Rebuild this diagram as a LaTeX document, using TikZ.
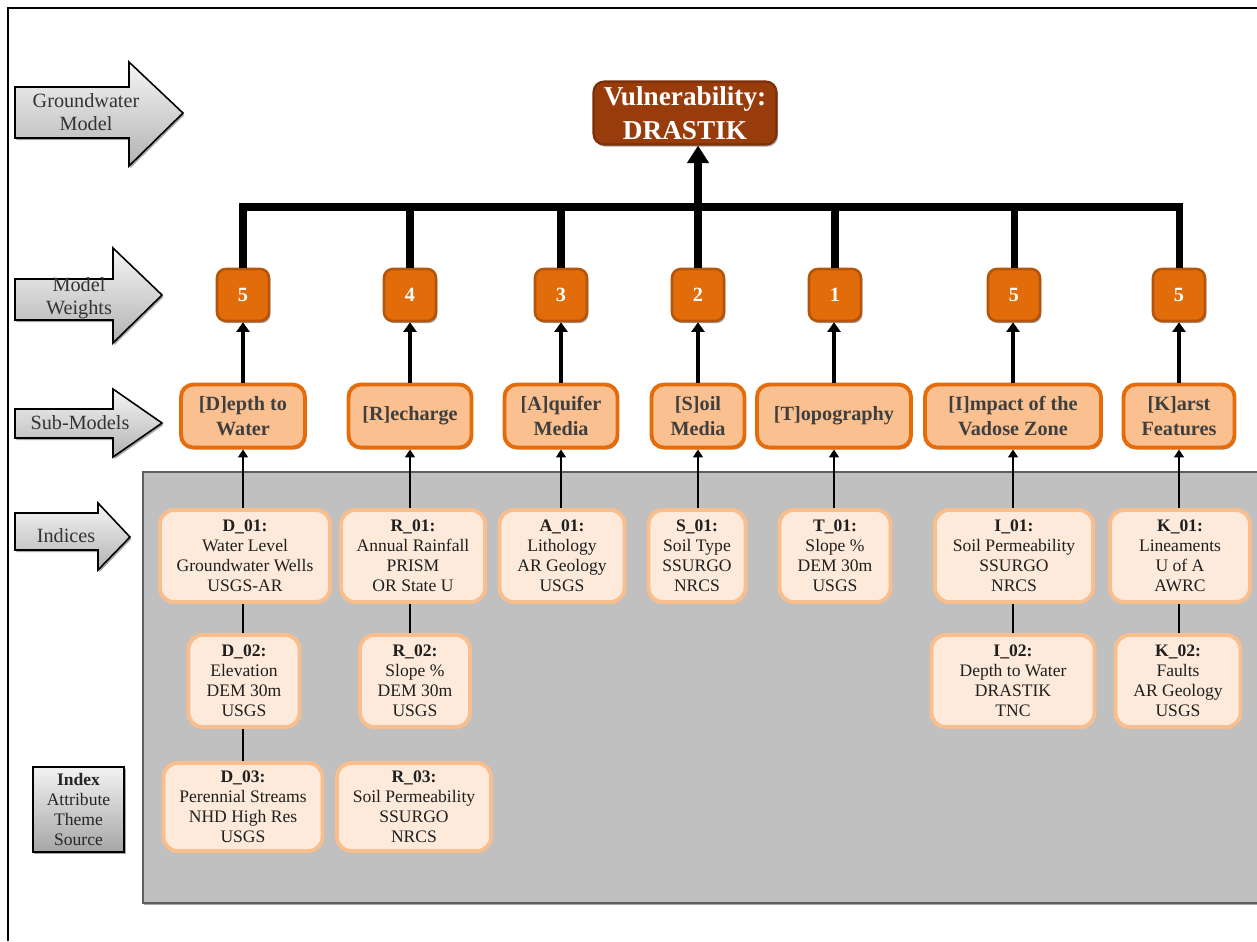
\documentclass[tikz,border=0pt]{standalone}
\usepackage{fontspec}
\setmainfont{Liberation Serif}
\usetikzlibrary{arrows.meta,shadows,calc}
\definecolor{topfill}{HTML}{983C0C}
\definecolor{topdraw}{HTML}{7A2F08}
\definecolor{wfill}{HTML}{E26B0A}
\definecolor{wdraw}{HTML}{B4550C}
\definecolor{subfill}{HTML}{FAC090}
\definecolor{subdraw}{HTML}{E46C0A}
\definecolor{idxfill}{HTML}{FDEADA}
\definecolor{idxdraw}{HTML}{F9BE8E}
\definecolor{panel}{HTML}{C0C0C0}
\definecolor{paneldraw}{HTML}{5F5F5F}
\definecolor{subtxt}{HTML}{3F3F3F}
\definecolor{idxtxt}{HTML}{1F1F1F}
\tikzset{
  softshadow/.style={drop shadow={shadow xshift=0.8pt,shadow yshift=-1.2pt,opacity=0.35,fill=black}},
  topbox/.style={draw=topdraw, fill=topfill, line width=1.2pt, rounded corners=6pt, text=white,
    font=\fontsize{15.5}{19}\selectfont\bfseries, align=center, minimum width=3.66cm, minimum height=1.26cm,
    inner sep=0pt, softshadow},
  wbox/.style={draw=wdraw, fill=wfill, line width=1.5pt, rounded corners=5pt, text=white,
    font=\fontsize{11.5}{13}\selectfont\bfseries, minimum width=1.04cm, minimum height=1.04cm, inner sep=0pt, softshadow},
  subbox/.style={draw=subdraw, fill=subfill, line width=2.2pt, rounded corners=7pt, text=subtxt,
    font=\fontsize{11.5}{14}\selectfont\bfseries, align=center, minimum height=1.26cm, inner sep=0pt, softshadow},
  idxbox/.style={draw=idxdraw, fill=idxfill, line width=2.2pt, rounded corners=8pt, text=idxtxt,
    font=\fontsize{10}{11.3}\selectfont, align=center, inner sep=0pt},
  leftarrow/.style={draw=black, line width=0.9pt, top color=black!4, bottom color=black!30, line join=miter, softshadow},
  arrowtext/.style={font=\fontsize{11.5}{13}\selectfont, text=black!80, align=center, inner sep=0pt},
  legendbox/.style={draw=black, line width=1pt, top color=black!5, bottom color=black!35, text=black!85,
    font=\fontsize{10}{11.3}\selectfont, align=center, minimum width=1.83cm, minimum height=1.71cm, inner sep=0pt, softshadow},
  bus/.style={line width=4pt, black, line join=miter},
  subarrow/.style={line width=2.3pt, black, -{Triangle[width=7.5pt,length=5.5pt]}},
  idxarrow/.style={line width=1.5pt, black, -{Triangle[width=5.5pt,length=4.5pt]}},
  idxline/.style={line width=1.3pt, black},
}
\begin{document}
\begin{tikzpicture}[x=0.02cm,y=-0.02cm]
\useasboundingbox (0,0) rectangle (1257,941);
% frame
\draw[line width=1.3pt] (8,941) -- (8,8) -- (1257,8);
% grey panel
\path[draw=paneldraw, fill=panel, line width=1pt, softshadow] (143,472) rectangle (1262,903);
% left block arrows
\path[leftarrow] (15,87) -- (129,87) -- (129,62) -- (183,113) -- (129,166) -- (129,138) -- (15,138) -- cycle;
\node[arrowtext] (lblGW) at (86,112) {Groundwater\\Model};
\path[leftarrow] (15,279) -- (113,279) -- (113,248) -- (162,295) -- (113,343) -- (113,320) -- (15,320) -- cycle;
\node[arrowtext] (lblMW) at (79,298) {Model\\Weights};
\path[leftarrow] (15,409) -- (113,409) -- (113,389) -- (162,423) -- (113,457) -- (113,438) -- (15,438) -- cycle;
\node[arrowtext] (lblSM) at (80,423) {Sub-Models};
\path[leftarrow] (15,513) -- (98,513) -- (98,503) -- (130,537) -- (98,570) -- (98,550) -- (15,550) -- cycle;
\node[arrowtext] (lblIX) at (66,536) {Indices};
% legend
\node[legendbox] (legend) at (78.5,809.5) {\textbf{Index}\\Attribute\\Theme\\Source};
% top
\node[topbox] (top) at (685,113) {Vulnerability:\\DRASTIK};
\coordinate (bar) at (698,207);
% weights
\node[wbox] (w1) at (243,295) {5};
\node[wbox] (w2) at (410,295) {4};
\node[wbox] (w3) at (561,295) {3};
\node[wbox] (w4) at (698,295) {2};
\node[wbox] (w5) at (835,295) {1};
\node[wbox] (w6) at (1014,295) {5};
\node[wbox] (w7) at (1179,295) {5};
% sub-models
\node[subbox, minimum width=2.48cm] (sD) at (243,416) {[D]epth to\\Water};
\node[subbox, minimum width=2.46cm] (sR) at (410,416) {[R]echarge};
\node[subbox, minimum width=2.26cm] (sA) at (561,416) {[A]quifer\\Media};
\node[subbox, minimum width=1.86cm] (sS) at (698,416) {[S]oil\\Media};
\node[subbox, minimum width=3.08cm] (sT) at (834,416) {[T]opography};
\node[subbox, minimum width=3.52cm] (sI) at (1013,416) {[I]mpact of the\\Vadose Zone};
\node[subbox, minimum width=2.22cm] (sK) at (1179,416) {[K]arst\\Features};
% indices row 1
\node[idxbox, minimum width=3.40cm, minimum height=1.84cm] (D1) at (245,556) {\textbf{D\_01:}\\Water Level\\Groundwater Wells\\USGS-AR};
\node[idxbox, minimum width=2.88cm, minimum height=1.84cm] (R1) at (413,556) {\textbf{R\_01:}\\Annual Rainfall\\PRISM\\OR State U};
\node[idxbox, minimum width=2.50cm, minimum height=1.84cm] (A1) at (562,556) {\textbf{A\_01:}\\Lithology\\AR Geology\\USGS};
\node[idxbox, minimum width=1.94cm, minimum height=1.84cm] (S1) at (697,556) {\textbf{S\_01:}\\Soil Type\\SSURGO\\NRCS};
\node[idxbox, minimum width=2.22cm, minimum height=1.84cm] (T1) at (835,556) {\textbf{T\_01:}\\Slope \%\\DEM 30m\\USGS};
\node[idxbox, minimum width=3.16cm, minimum height=1.84cm] (I1) at (1014,556) {\textbf{I\_01:}\\Soil Permeability\\SSURGO\\NRCS};
\node[idxbox, minimum width=2.80cm, minimum height=1.84cm] (K1) at (1180,556) {\textbf{K\_01:}\\Lineaments\\U of A\\AWRC};
% indices row 2
\node[idxbox, minimum width=2.22cm, minimum height=1.84cm] (D2) at (244,681) {\textbf{D\_02:}\\Elevation\\DEM 30m\\USGS};
\node[idxbox, minimum width=2.20cm, minimum height=1.84cm] (R2) at (415,681) {\textbf{R\_02:}\\Slope \%\\DEM 30m\\USGS};
\node[idxbox, minimum width=3.26cm, minimum height=1.84cm] (I2) at (1013,681) {\textbf{I\_02:}\\Depth to Water\\DRASTIK\\TNC};
\node[idxbox, minimum width=2.50cm, minimum height=1.84cm] (K2) at (1178,681) {\textbf{K\_02:}\\Faults\\AR Geology\\USGS};
% indices row 3
\node[idxbox, minimum width=3.18cm, minimum height=1.76cm] (D3) at (243,807) {\textbf{D\_03:}\\Perennial Streams\\NHD High Res\\USGS};
\node[idxbox, minimum width=3.08cm, minimum height=1.76cm] (R3) at (414,807) {\textbf{R\_03:}\\Soil Permeability\\SSURGO\\NRCS};
% bus
\draw[bus] (w1.north) -- (w1.north |- bar) -- (w7.north |- bar) -- (w7.north);
\foreach \w in {w2,w3,w4,w5,w6} \draw[bus] (\w.north) -- (\w.north |- bar);
\draw[bus, -{Triangle[width=12pt,length=10pt]}] (w4.north |- bar) -- (w4.north |- top.south);
% sub -> weight
\draw[subarrow] (sD.north) -- (sD.north |- w1.south);
\draw[subarrow] (sR.north) -- (sR.north |- w2.south);
\draw[subarrow] (sA.north) -- (sA.north |- w3.south);
\draw[subarrow] (sS.north) -- (sS.north |- w4.south);
\draw[subarrow] (sT.north) -- (sT.north |- w5.south);
\draw[subarrow] (sI.north) -- (sI.north |- w6.south);
\draw[subarrow] (sK.north) -- (sK.north |- w7.south);
% index -> sub
\draw[idxarrow] (sD.south |- D1.north) -- (sD.south);
\draw[idxarrow] (sR.south |- R1.north) -- (sR.south);
\draw[idxarrow] (sA.south |- A1.north) -- (sA.south);
\draw[idxarrow] (sS.south |- S1.north) -- (sS.south);
\draw[idxarrow] (sT.south |- T1.north) -- (sT.south);
\draw[idxarrow] (sI.south |- I1.north) -- (sI.south);
\draw[idxarrow] (sK.south |- K1.north) -- (sK.south);
% index chains
\draw[idxline] (D1.south -| sD) -- (D2.north -| sD);
\draw[idxline] (D2.south -| sD) -- (D3.north -| sD);
\draw[idxline] (R1.south -| sR) -- (R2.north -| sR);
\draw[idxline] (I1.south -| sI) -- (I2.north -| sI);
\draw[idxline] (K1.south -| sK) -- (K2.north -| sK);
\end{tikzpicture}
\end{document}
